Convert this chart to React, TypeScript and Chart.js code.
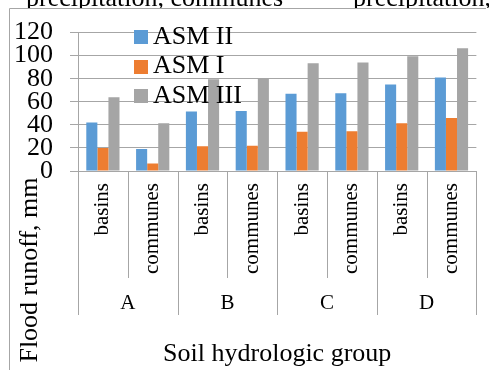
import React, { useEffect, useRef } from 'react';
import { Chart, registerables } from 'chart.js';

Chart.register(...registerables);

const categories = ['basins', 'communes', 'basins', 'communes', 'basins', 'communes', 'basins', 'communes'];
const groups = ['A', 'B', 'C', 'D'];
const seriesNames = ['ASM II', 'ASM I', 'ASM III'];
const asm2 = [42, 19, 51.5, 52, 67, 67.5, 75, 81];
const asm1 = [20, 6.5, 21.5, 22, 34, 34.5, 41.5, 46];
const asm3 = [64, 41.5, 79.5, 80, 93.5, 94, 99.5, 106.5];
const yTicks = [0, 20, 40, 60, 80, 100, 120];
const topTexts = ['precipitation, communes', 'precipitation,'];
const yTitle = 'Flood runoff, mm';
const xTitle = 'Soil hydrologic group';
const colors = ['#5B9BD5', '#ED7D31', '#A5A5A5'];

const SERIF = "'Liberation Serif', 'Times New Roman', serif";
const LINE = '#a6a6a6';

const decor = {
  id: 'decor',
  afterDraw(chart: any) {
    const ctx = chart.ctx;
    const { bottom } = chart.chartArea;
    const x = chart.scales.x;
    ctx.save();
    // clipped text from above
    ctx.save();
    ctx.beginPath();
    ctx.rect(0, 0, chart.width, 8);
    ctx.clip();
    ctx.font = `26px ${SERIF}`;
    ctx.fillStyle = '#000';
    ctx.textAlign = 'left';
    ctx.textBaseline = 'alphabetic';
    ctx.fillText(topTexts[0], 26, 6);
    ctx.fillText(topTexts[1], 353, 6);
    ctx.restore();
    // outer border
    ctx.strokeStyle = LINE;
    ctx.lineWidth = 1;
    ctx.beginPath();
    ctx.moveTo(9.5, chart.height);
    ctx.lineTo(9.5, 8.5);
    ctx.lineTo(486, 8.5);
    ctx.stroke();
    // category separators
    const half = (x.getPixelForValue(1) - x.getPixelForValue(0)) / 2;
    for (let i = 0; i <= categories.length; i++) {
      const px = i < categories.length ? x.getPixelForValue(i) - half : x.getPixelForValue(i - 1) + half;
      const isGroup = i % 2 === 0;
      const xx = Math.round(px) + 0.5;
      ctx.beginPath();
      ctx.moveTo(xx, bottom);
      ctx.lineTo(xx, bottom + (isGroup ? 144 : 107));
      ctx.stroke();
    }
    // group labels
    ctx.fillStyle = '#000';
    ctx.font = `21px ${SERIF}`;
    ctx.textAlign = 'center';
    ctx.textBaseline = 'middle';
    groups.forEach((g, gi) => {
      const cx = (x.getPixelForValue(gi * 2) + x.getPixelForValue(gi * 2 + 1)) / 2;
      ctx.fillText(g, cx, bottom + 132);
    });
    // y title
    ctx.save();
    ctx.translate(30, 270);
    ctx.rotate(-Math.PI / 2);
    ctx.font = `26px ${SERIF}`;
    ctx.textAlign = 'center';
    ctx.textBaseline = 'middle';
    ctx.fillText(yTitle, 0, 0);
    ctx.restore();
    // legend
    ctx.font = `26px ${SERIF}`;
    ctx.textAlign = 'left';
    ctx.textBaseline = 'middle';
    chart.data.datasets.forEach((ds: any, i: number) => {
      const cy = 37 + i * 29.6;
      ctx.fillStyle = ds.backgroundColor;
      ctx.fillRect(134, Math.round(cy - 7), 14, 14);
      ctx.fillStyle = '#000';
      ctx.fillText(ds.label, 153, cy);
    });
    ctx.restore();
  },
};

export default function App() {
  const ref = useRef<HTMLCanvasElement>(null);
  useEffect(() => {
    if (!ref.current) return;
    const chart = new Chart(ref.current, {
      type: 'bar',
      data: {
        labels: categories,
        datasets: [
          { label: seriesNames[0], data: asm2, backgroundColor: colors[0] },
          { label: seriesNames[1], data: asm1, backgroundColor: colors[1] },
          { label: seriesNames[2], data: asm3, backgroundColor: colors[2] },
        ],
      },
      options: {
        responsive: false,
        animation: false,
        devicePixelRatio: 1,
        layout: { padding: { left: 0, top: 27, right: 5, bottom: 0 } },
        datasets: { bar: { categoryPercentage: 0.667, barPercentage: 1 } },
        plugins: { legend: { display: false }, tooltip: { enabled: false } },
        scales: {
          x: {
            grid: { display: true, drawOnChartArea: false, drawTicks: false },
            border: { display: true, color: LINE },
            ticks: {
              minRotation: 90,
              maxRotation: 90,
              autoSkip: false,
              padding: 12,
              color: '#000',
              font: { family: SERIF, size: 21 },
            },
            title: {
              display: true,
              text: xTitle,
              color: '#000',
              font: { family: SERIF, size: 26 },
              padding: { top: 0, bottom: 0 },
            },
            afterFit: (s: any) => { s.height = 199; },
          },
          y: {
            min: 0,
            max: 120,
            afterBuildTicks: (s: any) => { s.ticks = yTicks.map((v) => ({ value: v })); },
            grid: { color: LINE, tickLength: 8, drawTicks: true },
            border: { display: true, color: LINE },
            ticks: {
              autoSkip: false,
              padding: 17,
              color: '#000',
              font: { family: SERIF, size: 26 },
            },
            afterFit: (s: any) => { s.width = 78; },
          },
        },
      },
      plugins: [decor],
    });
    return () => chart.destroy();
  }, []);
  return (
    <div style={{ position: 'fixed', left: 0, top: 0, width: 489, height: 370, background: '#fff' }}>
      <canvas ref={ref} width={489} height={370} />
    </div>
  );
}
